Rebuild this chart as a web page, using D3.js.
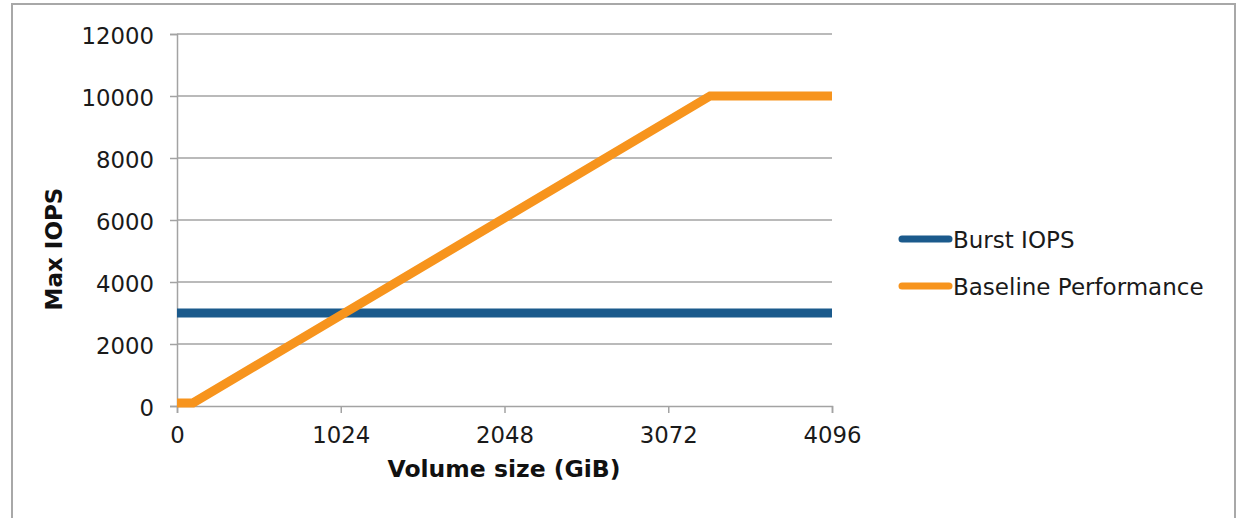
<!DOCTYPE html>
<html>
<head>
<meta charset="utf-8">
<script src="https://cdn.jsdelivr.net/npm/d3@7/dist/d3.min.js"></script>
<style>
  html, body { margin: 0; padding: 0; background: #ffffff; }
  svg { display: block; font-family: "DejaVu Sans", Verdana, sans-serif; }
</style>
</head>
<body>
<svg id="chart" width="1239" height="518"></svg>
<script>
// Volume size (GiB) vs. IOPS
const seriesNames = ["Burst IOPS", "Baseline Performance"];
const seriesColors = ["#1b5a8c", "#f7941d"];
const burstSize = [0, 4096];
const burstIops = [3000, 3000];
const baselineSize = [0, 100, 3334, 4096];
const baselineIops = [100, 100, 10000, 10000];
const xTicks = [0, 1024, 2048, 3072, 4096];
const yTicks = [0, 2000, 4000, 6000, 8000, 10000, 12000];

const svg = d3.select("#chart");
const gridColor = "#a3a3a3";
const textColor = "#1a1a1a";

// outer frame
svg.append("rect")
  .attr("x", 12).attr("y", 4)
  .attr("width", 1223).attr("height", 530)
  .attr("fill", "#ffffff")
  .attr("stroke", "#a8a8a8").attr("stroke-width", 2);

const plot = { left: 177, right: 832, top: 34, bottom: 406 };

const x = d3.scaleLinear().domain([0, 4096]).range([plot.left, plot.right]);
const y = d3.scaleLinear().domain([0, 12000]).range([plot.bottom, plot.top]);

// horizontal gridlines
svg.append("g")
  .selectAll("line")
  .data(yTicks.filter(d => d !== 0))
  .join("line")
  .attr("x1", plot.left).attr("x2", plot.right)
  .attr("y1", d => y(d)).attr("y2", d => y(d))
  .attr("stroke", gridColor).attr("stroke-width", 1.5);

// y axis
const yAxis = svg.append("g")
  .attr("transform", `translate(${plot.left},0)`)
  .call(d3.axisLeft(y).tickValues(yTicks).tickSize(7).tickPadding(16).tickFormat(d3.format("d")));
yAxis.select(".domain").attr("stroke", gridColor).attr("stroke-width", 1.5);
yAxis.selectAll(".tick line").attr("stroke", gridColor).attr("stroke-width", 1.5);
yAxis.selectAll(".tick text")
  .attr("font-size", 22.8).attr("fill", textColor)
  .attr("font-family", "DejaVu Sans, Verdana, sans-serif")
  .attr("dy", "0.42em");

// x axis
const xAxis = svg.append("g")
  .attr("transform", `translate(0,${plot.bottom})`)
  .call(d3.axisBottom(x).tickValues(xTicks).tickSize(7).tickPadding(14).tickFormat(d3.format("d")));
xAxis.select(".domain").attr("stroke", gridColor).attr("stroke-width", 1.5);
xAxis.selectAll(".tick line").attr("stroke", gridColor).attr("stroke-width", 1.5);
xAxis.selectAll(".tick text")
  .attr("font-size", 22.8).attr("fill", textColor)
  .attr("font-family", "DejaVu Sans, Verdana, sans-serif");

// axis titles
svg.append("text")
  .attr("x", 504).attr("y", 477)
  .attr("text-anchor", "middle")
  .attr("font-size", 23.5).attr("font-weight", "bold").attr("fill", "#111")
  .text("Volume size (GiB)");

svg.append("text")
  .attr("transform", "translate(62,249) rotate(-90)")
  .attr("text-anchor", "middle")
  .attr("font-size", 23).attr("font-weight", "bold").attr("fill", "#111")
  .text("Max IOPS");

// series lines
const line = d3.line().x(d => x(d[0])).y(d => y(d[1]));
const burst = burstSize.map((s, i) => [s, burstIops[i]]);
const baseline = baselineSize.map((s, i) => [s, baselineIops[i]]);

svg.append("path")
  .datum(burst)
  .attr("d", line)
  .attr("fill", "none")
  .attr("stroke", seriesColors[0])
  .attr("stroke-width", 9);

svg.append("path")
  .datum(baseline)
  .attr("d", line)
  .attr("fill", "none")
  .attr("stroke", seriesColors[1])
  .attr("stroke-width", 9)
  .attr("stroke-linejoin", "miter");

// legend
const legend = svg.append("g").attr("transform", "translate(899,239)");
const items = legend.selectAll("g")
  .data(seriesNames)
  .join("g")
  .attr("transform", (d, i) => `translate(0,${i * 47})`);
items.append("line")
  .attr("x1", 3).attr("x2", 50)
  .attr("y1", 0).attr("y2", 0)
  .attr("stroke", (d, i) => seriesColors[i])
  .attr("stroke-width", 7)
  .attr("stroke-linecap", "round");
items.append("text")
  .attr("x", 54).attr("y", 0).attr("dy", "0.38em")
  .attr("font-size", 23).attr("fill", textColor)
  .text(d => d);
</script>
</body>
</html>
